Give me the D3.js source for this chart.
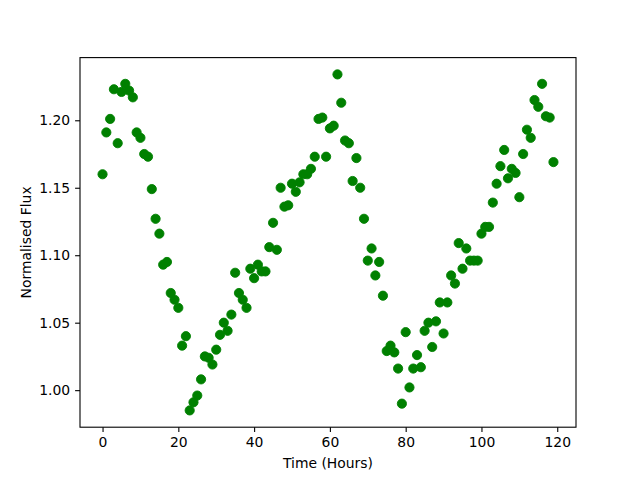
<!DOCTYPE html>
<html><head><meta charset="utf-8">
<script src="https://cdn.jsdelivr.net/npm/d3@7"></script>
<style>body{margin:0;background:#fff}svg{display:block}text{font-family:"DejaVu Sans",sans-serif}</style>
</head><body>
<svg id="c" width="640" height="480"></svg>
<script>
const hours = d3.range(0, 120);
const flux = [1.160,1.191,1.201,1.223,1.183,1.221,1.227,1.222,1.217,1.191,
1.187,1.175,1.173,1.149,1.127,1.116,1.093,1.095,1.072,1.067,
1.061,1.033,1.040,0.985,0.991,0.996,1.008,1.025,1.024,1.019,
1.030,1.041,1.050,1.044,1.056,1.087,1.072,1.067,1.061,1.090,
1.083,1.093,1.088,1.088,1.106,1.124,1.104,1.150,1.136,1.137,
1.153,1.147,1.154,1.160,1.160,1.164,1.173,1.201,1.202,1.173,
1.194,1.196,1.234,1.213,1.185,1.183,1.155,1.172,1.150,1.127,
1.096,1.105,1.085,1.095,1.070,1.029,1.033,1.028,1.016,0.990,
1.043,1.002,1.016,1.026,1.017,1.044,1.050,1.032,1.051,1.065,
1.042,1.065,1.085,1.079,1.109,1.090,1.105,1.096,1.096,1.096,
1.116,1.121,1.121,1.139,1.153,1.166,1.178,1.157,1.164,1.161,
1.143,1.175,1.193,1.187,1.215,1.210,1.227,1.203,1.202,1.169];
const xTicks = [0,20,40,60,80,100,120];
const yTicks = [1.00,1.05,1.10,1.15,1.20];
const xLabel = "Time (Hours)", yLabel = "Normalised Flux";

const L=80, R=576, T=57.6, B=427.2;
const svg = d3.select("#c");
const xe = d3.extent(hours), ye = d3.extent(flux);
const xm = (xe[1]-xe[0])*0.05, ym = (ye[1]-ye[0])*0.05;
const x = d3.scaleLinear().domain([xe[0]-xm, xe[1]+xm]).range([L,R]);
const y = d3.scaleLinear().domain([ye[0]-ym, ye[1]+ym]).range([B,T]);

svg.append("g").selectAll("circle").data(hours).join("circle")
  .attr("cx", (d)=>x(d)).attr("cy", (d,i)=>y(flux[i])).attr("r", 4.6)
  .attr("fill", "#008000").attr("stroke", "#008000").attr("stroke-width", 0.9);

const xa = svg.append("g").attr("transform", `translate(0,${B})`)
  .call(d3.axisBottom(x).tickValues(xTicks).tickFormat(d3.format("d")).tickSizeOuter(0).tickSize(4.9).tickPadding(4.9));
const ya = svg.append("g").attr("transform", `translate(${L},0)`)
  .call(d3.axisLeft(y).tickValues(yTicks).tickFormat(d3.format(".2f")).tickSizeOuter(0).tickSize(4.9).tickPadding(4.9));
[xa, ya].forEach(a => {
  a.select(".domain").remove();
  a.selectAll("line").attr("stroke","#000").attr("stroke-width",1.1);
  a.selectAll("text").attr("font-size","13.9px").attr("fill","#000").attr("font-family","DejaVu Sans, sans-serif");
});
svg.append("rect").attr("x",L).attr("y",T).attr("width",R-L).attr("height",B-T)
  .attr("fill","none").attr("stroke","#000").attr("stroke-width",1.1);

svg.append("text").attr("x",(L+R)/2).attr("y",468).attr("text-anchor","middle")
  .attr("font-size","13.9px").text(xLabel);
svg.append("text").attr("transform",`translate(31,${(T+B)/2}) rotate(-90)`).attr("text-anchor","middle")
  .attr("font-size","13.9px").text(yLabel);
</script>
</body></html>
